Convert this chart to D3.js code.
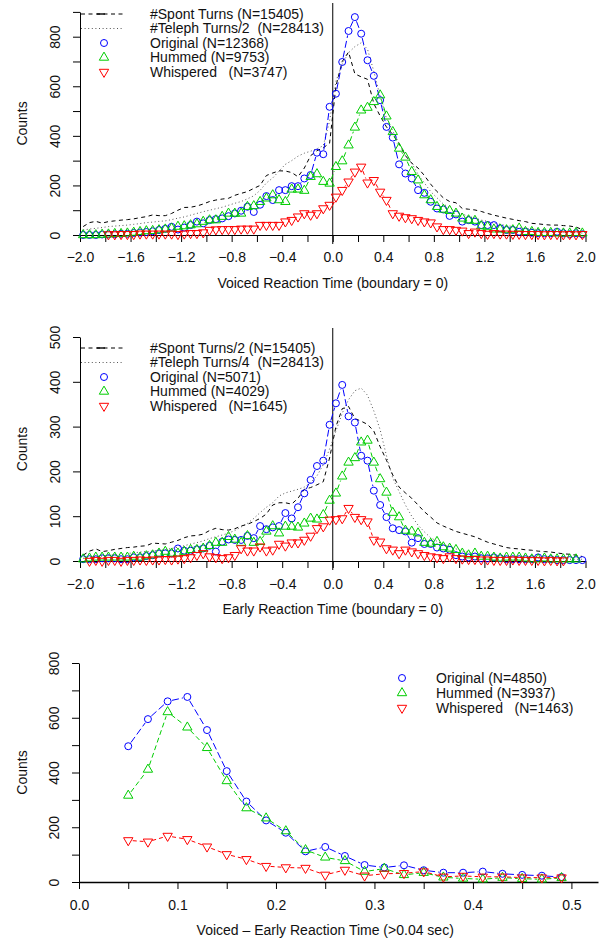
<!DOCTYPE html>
<html>
<head>
<meta charset="utf-8">
<script src="https://cdn.jsdelivr.net/npm/d3@7"></script>
<style>
  body { margin: 0; background: #fff; }
  svg text { font-family: "Liberation Sans", Arial, Helvetica, sans-serif; font-size: 14px; fill: #111; }
</style>
</head>
<body>
<svg id="chart" width="606" height="940"></svg>
<script>
// ---- data -------------------------------------------------------------

// 0.05 s bins, centres -1.975 .. 1.975 (top two panels)
const rtBins = d3.range(80).map(i => -1.975 + 0.05 * i);
// bottom panel bins
const diffBins = [0.05, 0.07, 0.09, 0.11, 0.13, 0.15, 0.17, 0.19, 0.21, 0.23, 0.25, 0.27,
                  0.29, 0.31, 0.33, 0.35, 0.37, 0.39, 0.41, 0.43, 0.45, 0.47, 0.49];

// panel 1: voiced reaction time
const voicedOriginal = [0,0,0,2,3, 3,5,5,8,10, 12,15,20,25,33, 22,30,40,54,47,
  60,64,67,76,87, 98,114,93,122,157, 141,181,181,197,197, 228,242,332,326,517,
  570,698,823,879,812, 705,642,544,436,393, 285,248,228,181,170, 134,107,103,77,83,
  54,60,54,40,40, 40,27,20,20,13, 13,9,7,7,7, 13,7,3,7,3];
const voicedHummed = [0,0,0,2,3, 5,5,7,10,13, 16,17,20,23,27, 34,36,40,44,54,
  60,60,74,87,87, 87,114,117,134,148, 161,141,134,184,184, 179,235,246,215,208,
  275,298,362,434,503, 514,537,564,479,416, 349,313,255,221,161, 141,114,103,98,87,
  67,60,58,36,34, 23,23,20,20,27, 13,13,9,9,9, 7,7,7,9,7];
const voicedWhispered = [null,null,null,null,2, 2,3,3,3,5, 5,5,5,5,5, 3,5,7,7,10,
  20,22,23,23,23, 25,25,25,40,40, 40,40,54,60,74, 87,81,87,107,121,
  154,181,215,255,275, 211,221,174,141,87, 77,71,67,60,54, 50,34,23,23,20,
  17,7,13,7,4, 7,5,5,4,4, 3,3,3,2,3, 3,2,3,2,3];
const voicedSpont = [34,50,55,48,54, 57,60,62,65,70, 74,81,78,78,87, 100,111,112,117,125,
  135,141,145,148,160, 168,175,188,200,240, 250,259,258,252,235, 270,320,340,352,370,
  600,700,738,650,638, 628,530,480,436,405, 369,320,290,270,240, 205,175,150,135,130,
  107,104,101,95,87, 80,74,68,63,58, 54,47,45,42,40, 40,38,36,32,22];
const voicedTeleph = [20,24,27,30,34, 36,38,40,43,46, 50,52,55,57,62, 68,73,80,87,94,
  100,106,112,120,128, 135,146,158,180,210, 230,258,285,300,318, 330,338,348,360,460,
  620,690,735,760,775, 750,660,560,470,420, 370,320,290,245,210, 175,150,125,110,95,
  85,75,68,60,55, 48,43,38,34,30, 27,24,22,18,16, 14,12,10,9,8];

// panel 2: early reaction time
const earlyOriginal = [4,4,4,6,6, 6,4,4,8,8, 11,13,17,17,17, 28,23,23,26,28,
  34,21,43,48,47, 47,56,51,78,71, 75,78,107,95,120, 151,181,212,224,304,
  352,393,323,309,235, 224,157,125,98,73, 69,66,41,51,38, 38,30,28,25,13,
  10,8,10,6,6, 8,6,4,4,4, 4,4,8,4,4, 2,2,2,2,2];
const earlyHummed = [4,6,8,8,8, 8,8,8,10,8, 11,13,17,21,17, 17,21,25,25,28,
  34,41,41,54,48, 41,56,41,43,66, 78,62,77,77,75, 84,95,93,103,135,
  151,189,220,230,265, 269,220,183,153,108, 98,68,66,62,41, 39,43,31,28,25,
  17,13,17,10,10, 8,6,8,8,8, 6,4,4,6,4, 4,4,4,4,null];
const earlyWhispered = [null,0,2,0,2, 2,0,2,2,3, 2,3,3,4,3, 5,6,8,13,17,
  10,8,6,8,13, 28,23,23,32,23, 25,38,34,41,41, 47,56,73,77,92,
  93,95,118,98,93, 88,47,43,28,25, 17,25,21,17,13, 10,8,6,10,6,
  5,4,4,3,3, 2,2,2,3,2, 2,2,2,1,2, 1,1,null,null,null];
const earlySpont = [13,22,27,21,23, 26,28,30,31,33, 34,40,39,38,42, 46,52,56,57,60,
  68,73,70,69,72, 78,82,88,95,105, 125,130,130,127,140, 160,164,170,177,230,
  300,340,345,318,312, 305,290,255,225,192, 165,152,140,125,110, 98,85,78,72,66,
  62,58,54,48,42, 38,34,30,28,27, 25,24,22,21,20, 18,16,15,13,10];
const earlyTeleph = [6,8,10,11,13, 14,15,17,18,20, 21,22,24,25,28, 31,34,38,41,45,
  50,54,58,62,68, 76,84,95,108,120, 130,145,152,156,160, 165,175,190,215,250,
  290,330,360,380,386, 370,335,293,235,185, 155,125,100,80,65, 52,44,37,32,27,
  22,19,16,13,12, 11,10,9,8,8, 7,7,6,6,5, 5,5,4,4,4];

// panel 3: voiced - early
const diffOriginal = [496,595,660,676,555,405,294,225,180,112,128,95,62,53,61,43,34,34,38,30,26,23,18];
const diffHummed = [316,411,621,565,490,369,270,233,186,117,90,77,38,49,26,34,17,13,10,16,12,10,15];
const diffWhispered = [152,147,168,156,129,101,83,58,53,51,26,44,23,30,32,38,19,22,19,19,16,16,16];

// ticks
const rtTicks = [-2.0,-1.8,-1.6,-1.4,-1.2,-1.0,-0.8,-0.6,-0.4,-0.2,0,0.2,0.4,0.6,0.8,1.0,1.2,1.4,1.6,1.8,2.0];
const rtTickLabels = [-2.0,-1.6,-1.2,-0.8,-0.4,0,0.4,0.8,1.2,1.6,2.0];
const diffTicks = [0,0.05,0.1,0.15,0.2,0.25,0.3,0.35,0.4,0.45,0.5];
const diffTickLabels = [0,0.1,0.2,0.3,0.4,0.5];
const countTicks900 = [0,100,200,300,400,500,600,700,800,900];
const countTicks500 = [0,100,200,300,400,500];
const countTicks800 = [0,100,200,300,400,500,600,700,800];
const countLabels = [0,200,400,600,800];
const countLabels500 = [0,100,200,300,400,500];

const legend1 = ["#Spont Turns (N=15405)", "#Teleph Turns/2  (N=28413)", "Original (N=12368)", "Hummed (N=9753)", "Whispered   (N=3747)"];
const legend2 = ["#Spont Turns/2 (N=15405)", "#Teleph Turns/4  (N=28413)", "Original (N=5071)", "Hummed (N=4029)", "Whispered   (N=1645)"];
const legend3 = ["Original (N=4850)", "Hummed (N=3937)", "Whispered   (N=1463)"];

// ---- drawing ----------------------------------------------------------

const svg = d3.select("#chart");
const blue = "#0000ff", green = "#00cd00", red = "#ff0000";
const styles = {
  spont:  { kind: "l", color: "#000", dash: "4,3.5", width: 1 },
  teleph: { kind: "l", color: "#555", dash: "1,2.6", width: 1 },
  orig:   { kind: "b", color: blue,  dash: "7,3", marker: "circle" },
  hum:    { kind: "b", color: green, dash: "5,3", marker: "up" },
  whis:   { kind: "b", color: red,   dash: "4,3", marker: "down" }
};
const close = (a, b) => Math.abs(a - b) < 1e-9;

function markerPath(type) {
  const r = 5.4;
  if (type === "up") return `M0,${-r}L${r*0.866},${r/2}L${-r*0.866},${r/2}Z`;
  if (type === "down") return `M0,${r}L${r*0.866},${-r/2}L${-r*0.866},${-r/2}Z`;
  return null;
}

function drawMarker(g, type, color, px, py) {
  if (type === "circle") {
    g.append("circle").attr("cx", px).attr("cy", py).attr("r", 3.5)
      .attr("fill", "none").attr("stroke", color).attr("stroke-width", 1);
  } else {
    g.append("path").attr("d", markerPath(type)).attr("transform", `translate(${px},${py})`)
      .attr("fill", "none").attr("stroke", color).attr("stroke-width", 1);
  }
}

function drawSeries(g, x, y, xs, vals, st) {
  const pts = xs.map((v, i) => vals[i] == null ? null : [x(v), y(vals[i])]);
  if (st.kind === "l") {
    g.append("path")
      .attr("d", d3.line().defined(d => d != null)(pts))
      .attr("fill", "none").attr("stroke", st.color)
      .attr("stroke-width", st.width).attr("stroke-dasharray", st.dash);
    return;
  }
  // type = "b": segments with a gap round each point
  const gap = 4.5;
  for (let i = 1; i < pts.length; i++) {
    const a = pts[i - 1], b = pts[i];
    if (!a || !b) continue;
    const dx = b[0] - a[0], dy = b[1] - a[1], len = Math.hypot(dx, dy);
    if (len <= 2 * gap) continue;
    const ux = dx / len, uy = dy / len;
    g.append("line")
      .attr("x1", a[0] + ux * gap).attr("y1", a[1] + uy * gap)
      .attr("x2", b[0] - ux * gap).attr("y2", b[1] - uy * gap)
      .attr("stroke", st.color).attr("stroke-width", 1).attr("stroke-dasharray", st.dash);
  }
  pts.forEach(p => { if (p) drawMarker(g, st.marker, st.color, p[0], p[1]); });
}

function drawPanel(p) {
  const g = svg.append("g");
  const x = d3.scaleLinear().domain(p.xDomain).range(p.xRange);
  const y = d3.scaleLinear().domain(p.yDomain).range(p.yRange);
  const fmt = d3.format(".1f");

  // x axis, drawn at count 0
  const xa = g.append("g")
    .attr("transform", `translate(0,${y(0)})`)
    .call(d3.axisBottom(x).tickValues(p.xTicks).tickSize(7).tickSizeOuter(0)
      .tickFormat(d => p.xLabels.some(l => close(l, d)) ? fmt(d) : ""));
  xa.select(".domain").attr("stroke-width", p.xAxisWidth || 1);
  xa.selectAll("text").attr("y", p.xLabelY - y(0)).attr("dy", "0.35em").attr("font-size", 14);

  // y axis
  const ya = g.append("g")
    .attr("transform", `translate(${p.xRange[0]},0)`)
    .call(d3.axisLeft(y).tickValues(p.yTicks).tickSize(7).tickSizeOuter(0)
      .tickFormat(d => p.yLabels.includes(d) ? d : ""));
  ya.selectAll("text")
    .attr("transform", "rotate(-90)")
    .attr("x", 0).attr("y", -25).attr("dy", "0.35em")
    .attr("text-anchor", "middle").attr("font-size", 14);
  g.selectAll(".domain, .tick line").attr("stroke", "#000");
  g.selectAll(".tick text").attr("fill", "#111").attr("font-family", null);

  // axis titles
  g.append("text").attr("x", (p.xRange[0] + x(p.xTitleAt)) / 2).attr("y", p.xTitleY)
    .attr("dy", "0.35em").attr("text-anchor", "middle").text(p.xTitle);
  g.append("text").attr("transform", `translate(22,${(y(0) + y(p.yDomain[1])) / 2}) rotate(-90)`)
    .attr("dy", "0.35em").attr("text-anchor", "middle").text("Counts");

  // boundary line
  if (p.zeroLine) {
    g.append("line").attr("x1", x(0)).attr("x2", x(0))
      .attr("y1", p.zeroLine[0]).attr("y2", p.zeroLine[1])
      .attr("stroke", "#000").attr("stroke-width", 1);
  }

  p.series.forEach(s => drawSeries(g, x, y, p.bins, s.values, s.style));

  // legend
  const lg = g.append("g");
  p.legend.forEach((row, i) => {
    const ly = p.legendY[i];
    const st = row.style;
    if (st.kind === "l") {
      lg.append("line").attr("x1", 81).attr("x2", 124).attr("y1", ly).attr("y2", ly)
        .attr("stroke", st.color).attr("stroke-dasharray", st.dash);
      if (st === styles.spont) {
        lg.append("line").attr("x1", 97).attr("x2", 105).attr("y1", ly).attr("y2", ly)
          .attr("stroke", "#000").attr("stroke-width", 1.4);
      }
    } else {
      drawMarker(lg, st.marker, st.color, p.legendMarkerX, ly);
    }
    lg.append("text").attr("x", p.legendTextX).attr("y", ly).attr("dy", "0.35em")
      .style("white-space", "pre").text(row.label);
  });
}

drawPanel({
  xDomain: [-2, 2], xRange: [80, 585.5],
  yDomain: [0, 900], yRange: [235, 11.9],
  xTicks: rtTicks, xLabels: rtTickLabels,
  yTicks: countTicks900, yLabels: countLabels,
  xLabelY: 257, xTitleY: 283, xTitleAt: 2,
  xTitle: "Voiced Reaction Time (boundary = 0)",
  zeroLine: [3, 244],
  bins: rtBins,
  series: [
    { values: voicedSpont, style: styles.spont },
    { values: voicedTeleph, style: styles.teleph },
    { values: voicedOriginal, style: styles.orig },
    { values: voicedHummed, style: styles.hum },
    { values: voicedWhispered, style: styles.whis }
  ],
  legend: legend1.map((label, i) => ({ label, style: [styles.spont, styles.teleph, styles.orig, styles.hum, styles.whis][i] })),
  legendY: [14, 28.5, 43, 57.5, 72], legendMarkerX: 104, legendTextX: 150
});

drawPanel({
  xDomain: [-2, 2], xRange: [80, 585.5],
  yDomain: [0, 500], yRange: [561, 337],
  xTicks: rtTicks, xLabels: rtTickLabels,
  yTicks: countTicks500, yLabels: countLabels500,
  xLabelY: 584, xTitleY: 609, xTitleAt: 2,
  xTitle: "Early Reaction Time (boundary = 0)",
  zeroLine: [328, 570],
  bins: rtBins,
  series: [
    { values: earlySpont, style: styles.spont },
    { values: earlyTeleph, style: styles.teleph },
    { values: earlyOriginal, style: styles.orig },
    { values: earlyHummed, style: styles.hum },
    { values: earlyWhispered, style: styles.whis }
  ],
  legend: legend2.map((label, i) => ({ label, style: [styles.spont, styles.teleph, styles.orig, styles.hum, styles.whis][i] })),
  legendY: [348, 362.5, 377, 391.5, 406], legendMarkerX: 104, legendTextX: 150
});

drawPanel({
  xDomain: [0, 0.527], xRange: [79, 598],
  yDomain: [0, 800], yRange: [882, 663],
  xTicks: diffTicks, xLabels: diffTickLabels,
  yTicks: countTicks800, yLabels: countLabels,
  xLabelY: 905, xTitleY: 930, xTitleAt: 0.5,
  xAxisWidth: 1.6,
  xTitle: "Voiced \u2013 Early Reaction Time (>0.04 sec)",
  zeroLine: null,
  bins: diffBins,
  series: [
    { values: diffOriginal, style: styles.orig },
    { values: diffHummed, style: styles.hum },
    { values: diffWhispered, style: styles.whis }
  ],
  legend: legend3.map((label, i) => ({ label, style: [styles.orig, styles.hum, styles.whis][i] })),
  legendY: [678, 693, 708], legendMarkerX: 402, legendTextX: 436
});
</script>
</body>
</html>
